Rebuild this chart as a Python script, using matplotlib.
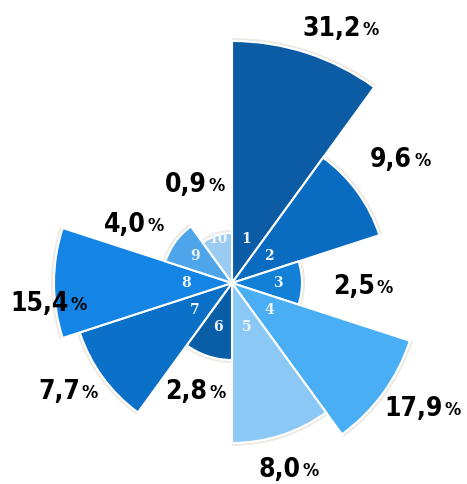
import matplotlib.pyplot as plt
import numpy as np

# sector numbers, shown percentages and drawn radius (px)
sectors = ['1', '2', '3', '4', '5', '6', '7', '8', '9', '10']
values = ['31,2', '9,6', '2,5', '17,9', '8,0', '2,8', '7,7', '15,4', '4,0', '0,9']
radius = [242, 155, 70, 187, 160, 77, 160, 178, 70, 50]
colors = ['#0B5CA5', '#0A6CC0', '#1380D8', '#4AAEF5', '#8CC8F5',
          '#0A5EA8', '#0A70C8', '#1585E5', '#4EA5EA', '#9ACBF0']

# label left edge / vertical centre in pixels (y from top)
label_pos = [(302, 29), (370, 160), (333, 287), (384, 409), (258, 470),
             (165, 392), (38, 392), (10, 304), (104, 225), (165, 185)]

W, H = 467, 484
fig = plt.figure(figsize=(W / 100, H / 100), dpi=100)

# polar axes placed so the centre sits at (232, 283) px, 1 unit = 1 px
cx, cy, R = 232, 283, 250
ax = fig.add_axes([(cx - R) / W, (H - cy - R) / H, 2 * R / W, 2 * R / H],
                  projection='polar')
ax.set_theta_zero_location('N')
ax.set_theta_direction(-1)
ax.set_ylim(0, R)
ax.axis('off')

n = len(sectors)
width = 2 * np.pi / n
theta = np.arange(n) * width + width / 2

# soft shadow rim, then the sectors
ax.bar(theta, np.array(radius) + 3, width=width, color='#e6e1d8',
       edgecolor='none', alpha=0.7, zorder=1)
ax.bar(theta, radius, width=width, color=colors,
       edgecolor='white', linewidth=1.5, zorder=2)

for t, s in zip(theta, sectors):
    ax.text(t, 46, s, ha='center', va='center', color='#eef4fa',
            fontsize=10, fontweight='bold', family='DejaVu Serif', zorder=3)

style = dict(fontweight='bold', family='DejaVu Sans', fontstretch='condensed',
             color='black')
for v, (x, y) in zip(values, label_pos):
    t = fig.text(x / W, 1 - y / H, v, ha='left', va='center',
                 fontsize=19, **style)
    ax.annotate('%', xy=(1, 0.1), xycoords=t, xytext=(1.5, 0),
                textcoords='offset points', ha='left', va='bottom',
                fontsize=13, **style)

fig.savefig('out.png', dpi=100)
